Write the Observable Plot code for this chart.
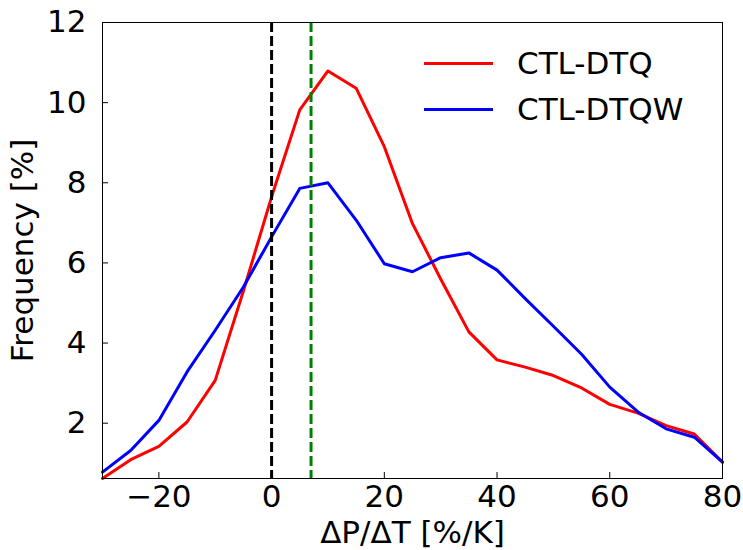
<!DOCTYPE html>
<html>
<head>
<meta charset="utf-8">
<script src="https://cdn.jsdelivr.net/npm/d3@7"></script>
<script src="https://cdn.jsdelivr.net/npm/@observablehq/plot@0.6"></script>
<style>
  body { margin: 0; background: #fff; }
  #wrap { position: relative; width: 743px; height: 550px; font-family: "DejaVu Sans", sans-serif; }
  .leg { position: absolute; display: flex; align-items: center; font-size: 31px; color: #000; }
  .leg .sw { width: 69px; height: 0; border-top: 3px solid; margin-right: 24px; }
</style>
</head>
<body>
<div id="wrap"></div>
<script>
const dpdt = [-30,-25,-20,-15,-10,-5,0,5,10,15,20,25,30,35,40,45,50,55,60,65,70,75,80];
const ctlDTQ  = [0.62,1.09,1.42,2.03,3.07,5.30,7.65,9.82,10.79,10.36,8.90,6.98,5.60,4.28,3.58,3.40,3.19,2.88,2.47,2.25,1.94,1.73,1.03];
const ctlDTQW = [0.78,1.32,2.07,3.28,4.32,5.40,6.65,7.86,8.00,7.07,5.98,5.78,6.13,6.25,5.82,5.11,4.42,3.72,2.90,2.28,1.86,1.65,1.03];
const seriesNames = ["CTL-DTQ", "CTL-DTQW"];
const seriesColors = ["#ff0000", "#0000ff"];
const xTicks = [-20, 0, 20, 40, 60, 80];
const yTicks = [2, 4, 6, 8, 10, 12];
const zeroLine = [0];
const meanLine = [7];

const rows = [];
dpdt.forEach((x, i) => {
  rows.push({x, y: ctlDTQ[i], s: seriesNames[0]});
  rows.push({x, y: ctlDTQW[i], s: seriesNames[1]});
});

const chart = Plot.plot({
  width: 743,
  height: 550,
  marginLeft: 102,
  marginRight: 21,
  marginTop: 22,
  marginBottom: 72,
  style: {fontFamily: "DejaVu Sans, sans-serif", fontSize: "31px", color: "#000", background: "#fff"},
  x: {domain: [-30, 80]},
  y: {domain: [0.62, 12]},
  color: {domain: seriesNames, range: seriesColors},
  marks: [
    Plot.axisX({ticks: xTicks, tickSize: -6, tickPadding: 12, label: "ΔP/ΔT [%/K]", labelAnchor: "center", labelArrow: "none", labelOffset: 64, stroke: "#000"}),
    Plot.axisY({ticks: yTicks, tickSize: -6, tickPadding: 22, label: "Frequency [%]", labelAnchor: "center", labelArrow: "none", labelOffset: 92, stroke: "#000"}),
    Plot.line(rows, {x: "x", y: "y", z: "s", stroke: "s", strokeWidth: 3}),
    Plot.ruleX(zeroLine, {stroke: "#000", strokeWidth: 3, strokeDasharray: "10,4"}),
    Plot.ruleX(meanLine, {stroke: "#008000", strokeWidth: 3, strokeDasharray: "10,4"}),
    Plot.frame({stroke: "#000", strokeWidth: 1})
  ]
});

const wrap = document.getElementById("wrap");
wrap.appendChild(chart);

const legTop = [63, 109];
seriesNames.forEach((name, i) => {
  const d = document.createElement("div");
  d.className = "leg";
  d.style.left = "424px";
  d.style.top = (legTop[i] - 20) + "px";
  d.style.height = "40px";
  const sw = document.createElement("div");
  sw.className = "sw";
  sw.style.borderColor = seriesColors[i];
  const t = document.createElement("span");
  t.textContent = name;
  d.appendChild(sw);
  d.appendChild(t);
  wrap.appendChild(d);
});
</script>
</body>
</html>
